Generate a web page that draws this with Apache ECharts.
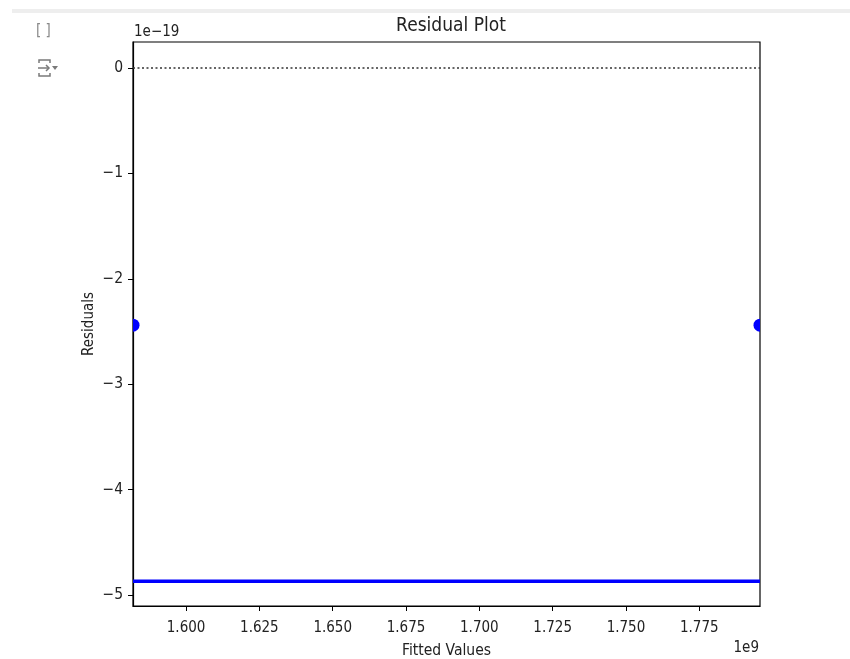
<!DOCTYPE html>
<html>
<head>
<meta charset="utf-8">
<script src="https://cdn.jsdelivr.net/npm/echarts@6/dist/echarts.min.js"></script>
<style>html,body{margin:0;padding:0;background:#fff;}#c{width:850px;height:659px;}</style>
</head>
<body>
<div id="c"></div>
<script>
// Values in display units: x in 1e9, y in 1e-19
const fittedValues = [1.5819, 1.7957];
const residuals = [-2.44, -2.44];
const lowessX = [1.5819, 1.7957];
const lowessY = [-4.87, -4.87];
const xTicks = [1.600, 1.625, 1.650, 1.675, 1.700, 1.725, 1.750, 1.775];
const yTicks = [-5, -4, -3, -2, -1, 0];
const xRange = [1.5819, 1.7957];
const yRange = [-5.105, 0.247];

const FONT = "'DejaVu Sans Condensed', 'DejaVu Sans', sans-serif";
const chart = echarts.init(document.getElementById('c'), null, {renderer: 'canvas'});

const scatterData = fittedValues.map((x, i) => [x, residuals[i]]);
const lowessData = lowessX.map((x, i) => [x, lowessY[i]]);

const fmtMinus = v => (v < 0 ? '\u2212' + Math.abs(v) : String(v));

chart.setOption({
  animation: false,
  textStyle: {fontFamily: FONT},
  title: {
    text: 'Residual Plot', left: 446, top: 12, textAlign: 'center',
    textStyle: {fontFamily: FONT, fontWeight: 'normal', fontSize: 19, color: '#222'}
  },
  grid: {left: 133, right: 90, top: 42, bottom: 53, containLabel: false, outerBoundsMode: 'none',
         show: true, borderColor: '#000', borderWidth: 1.2, backgroundColor: 'transparent'},
  xAxis: {
    type: 'value', min: xRange[0], max: xRange[1],
    name: 'Fitted Values', nameLocation: 'middle', nameGap: 37, nameMoveOverlap: false,
    nameTextStyle: {fontFamily: FONT, fontSize: 15.5, color: '#222'},
    axisLine: {show: true, onZero: false, lineStyle: {color: '#000', width: 1.2}},
    axisTick: {show: true, length: 5, lineStyle: {color: '#000', width: 1}, customValues: xTicks},
    axisLabel: {customValues: xTicks, formatter: v => v.toFixed(3), fontSize: 15, color: '#222', margin: 15, fontFamily: FONT},
    splitLine: {show: false}
  },
  yAxis: {
    type: 'value', min: yRange[0], max: yRange[1],
    name: 'Residuals', nameLocation: 'middle', nameGap: 36, nameRotate: 90, nameMoveOverlap: false,
    nameTextStyle: {fontFamily: FONT, fontSize: 15, color: '#222'},
    axisLine: {show: true, onZero: false, lineStyle: {color: '#000', width: 1.2}},
    axisTick: {show: true, length: 5, lineStyle: {color: '#000', width: 1}, customValues: yTicks},
    axisLabel: {customValues: yTicks, formatter: v => fmtMinus(Math.round(v)), fontSize: 15.5, color: '#222', margin: 10, fontFamily: FONT},
    splitLine: {show: false}
  },
  series: [
    {
      type: 'line', data: lowessData, symbol: 'none', silent: true,
      lineStyle: {color: '#0000ff', width: 3.5}, z: 3
    },
    {
      type: 'custom', data: scatterData, clip: true, z: 4,
      renderItem: function (params, api) {
        const p = api.coord([api.value(0), api.value(1)]);
        return {
          type: 'circle',
          shape: {cx: p[0], cy: p[1], r: 6.5},
          style: {fill: '#0000ff'}
        };
      },
      encode: {x: 0, y: 1}
    },
    {
      type: 'line', data: [], silent: true,
      markLine: {
        silent: true, symbol: 'none', label: {show: false},
        lineStyle: {color: '#333', type: [2, 2.5], width: 1.7},
        data: [{yAxis: 0}]
      }
    }
  ],
  graphic: [
    {type: 'rect', shape: {x: 12, y: 9, width: 838, height: 4}, style: {fill: '#eeeeee'}},
    {type: 'text', left: 36, top: 24, style: {text: '[ ]', fontFamily: FONT, fontSize: 15, fill: '#8a8a8a'}},
    // notebook output icon
    {type: 'polyline', shape: {points: [[39, 63], [39, 60], [50, 60], [50, 63]]}, style: {stroke: '#7a7a7a', lineWidth: 1.5, fill: null}},
    {type: 'polyline', shape: {points: [[39, 73], [39, 76], [50, 76], [50, 73]]}, style: {stroke: '#7a7a7a', lineWidth: 1.5, fill: null}},
    {type: 'line', shape: {x1: 38, y1: 68, x2: 49, y2: 68}, style: {stroke: '#7a7a7a', lineWidth: 1.5}},
    {type: 'polyline', shape: {points: [[46, 65], [49, 68], [46, 71]]}, style: {stroke: '#7a7a7a', lineWidth: 1.5, fill: null}},
    {type: 'polygon', shape: {points: [[52, 66], [58, 66], [55, 70]]}, style: {fill: '#7a7a7a'}},
    {type: 'text', left: 134, top: 25, style: {text: '1e\u221219', fontFamily: FONT, fontSize: 15, fill: '#222'}},
    {type: 'text', right: 91, top: 641, style: {text: '1e9', fontFamily: FONT, fontSize: 15, fill: '#222'}}
  ]
});
</script>
</body>
</html>
